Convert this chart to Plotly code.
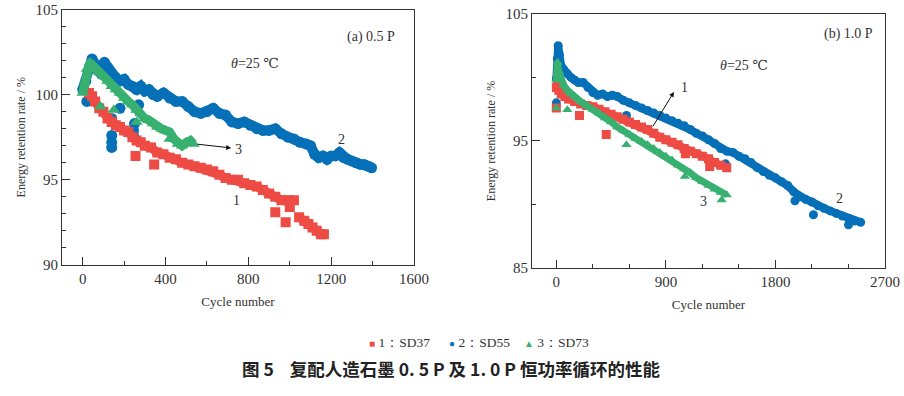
import plotly.graph_objects as go

# ---------------- data: (a) 0.5 P ----------------
a_sd37_cycle = [30, 45, 60, 80, 100, 120, 140, 160, 180, 200, 220, 240, 260, 280, 300, 330, 360, 390, 420,
                450, 480, 510, 540, 570, 600, 630, 660, 690, 720, 750, 780, 810, 840, 870, 900, 930, 960,
                990, 1020, None, 1045, 1070, 1090, 1110, 1130, 1150, 1165]
a_sd37_val = [100.1, 99.9, 99.6, 99.2, 99.0, 98.6, 98.4, 98.2, 98.1, 97.9, 97.8, 97.5, 97.3, 97.2, 97.0,
              96.9, 96.6, 96.5, 96.3, 96.2, 96.0, 95.9, 95.8, 95.7, 95.6, 95.5, 95.3, 95.1, 95.0, 95.0,
              94.8, 94.7, 94.6, 94.4, 94.2, 94.0, 93.8, 93.8, 93.8, None, 92.8, 92.6, 92.4, 92.2, 92.0, 91.8, 91.8]
a_sd37_out_cycle = [255, 345, 930, 980, 1000]
a_sd37_out_val = [96.4, 95.9, 93.1, 92.5, 93.4]

a_sd55_cycle = [0, 15, 30, 45, 60, 75, 90, 105, 120, 140, 160, 180, 200, 220, 240, 260, 280, 300, 320, 340,
                360, 390, 420, 450, 480, 510, 540, 570, 600, 630, 660, 690, 720, 750, 780, 810, 840, 870,
                900, 930, 960, 990, 1020, 1050, 1080, 1100, 1120, 1140, 1160, 1180, 1200, 1220, 1240, 1260,
                1280, 1300, 1320, 1340, 1360, 1380, 1395]
a_sd55_val = [100.3, 100.8, 101.5, 102.1, 101.8, 101.4, 101.2, 101.9, 101.6, 101.2, 101.0, 100.8, 100.9,
              100.6, 100.5, 100.3, 100.5, 100.2, 100.3, 100.0, 99.9, 100.1, 99.8, 99.6, 99.6, 99.3, 99.0,
              98.9, 99.0, 99.2, 98.9, 98.8, 98.4, 98.3, 98.4, 98.2, 98.0, 97.9, 97.9, 98.0, 97.7, 97.5,
              97.4, 97.2, 97.1, 97.0, 96.5, 96.3, 96.4, 96.2, 96.4, 96.4, 96.6, 96.3, 96.2, 96.1, 96.0,
              95.9, 95.9, 95.8, 95.7]
a_sd55_out_cycle = [20, 140, 140, 140, 140, 180, 245, 245, 270, 250]
a_sd55_out_val = [99.6, 98.6, 97.6, 97.2, 96.9, 99.2, 97.9, 97.6, 99.4, 98.3]

a_sd73_cycle = [0, 10, 20, 35, 50, 65, 80, 100, 120, 140, 160, 180, 200, 220, 240, 260, 280, 300, 320, 340,
                360, 380, 400, 420, 440, 460, 480, 500, 520, 535]
a_sd73_val = [100.1, 100.8, 101.5, 101.9, 101.7, 101.5, 101.3, 101.1, 100.8, 100.5, 100.3, 100.1, 99.8,
              99.6, 99.4, 99.1, 98.9, 98.6, 98.5, 98.3, 98.1, 98.0, 97.9, 97.8, 97.4, 97.1, 97.0, 97.2,
              97.3, 97.1]
a_sd73_out_cycle = [85, 150, 260, 420]
a_sd73_out_val = [99.3, 99.1, 98.4, 97.4]

# ---------------- data: (b) 1.0 P ----------------
b_sd37_cycle = [0, 10, 20, 40, 70, 100, 150, 200, 250, 300, 350, 400, 450, 500, 550, 600, 650, 700, 750,
                800, 850, 900, 950, 1000, 1050, 1100, 1150, 1200, 1250, 1300, 1350, 1400]
b_sd37_val = [99.2, 100.2, 99.0, 98.7, 98.5, 98.3, 98.1, 97.9, 97.8, 97.7, 97.5, 97.3, 97.1, 96.9, 96.7,
              96.5, 96.3, 96.1, 95.9, 95.6, 95.3, 95.1, 94.9, 94.7, 94.4, 94.2, 94.0, 93.8, 93.6, 93.3,
              93.1, 92.9]
b_sd37_out_cycle = [0, 190, 410, 1060, 1260]
b_sd37_out_val = [97.6, 97.0, 95.5, 94.0, 93.0]

b_sd55_cycle = [0, 8, 15, 25, 40, 60, 90, 120, 150, 180, 220, 260, 300, 340, 380, 420, 460, 500, 550, 600,
                650, 700, 750, 800, 850, 900, 950, 1000, 1050, 1100, 1150, 1200, 1250, 1300, 1350, 1400,
                1450, 1500, 1550, 1600, 1650, 1700, 1750, 1800, 1850, 1900, 1950, 2000, 2050, 2100, 2150,
                2200, 2250, 2300, 2350, 2400, 2450, 2500]
b_sd55_val = [99.9, 101.5, 102.5, 101.8, 100.9, 100.6, 100.3, 100.0, 99.8, 99.6, 99.6, 99.2, 98.8, 98.6,
              98.7, 98.5, 98.6, 98.5, 98.2, 98.0, 97.8, 97.6, 97.4, 97.2, 97.0, 96.8, 96.6, 96.4, 96.2,
              95.9, 95.6, 95.4, 95.1, 94.8, 94.4, 94.2, 94.1, 93.8, 93.6, 93.3, 92.9, 92.6, 92.3, 92.1,
              91.8, 91.5, 91.0, 90.6, 90.4, 90.2, 89.9, 89.7, 89.5, 89.3, 89.1, 88.9, 88.7, 88.6]
b_sd55_out_cycle = [0, 576, 1390, 2112, 2400, 1960]
b_sd55_out_val = [98.0, 97.0, 93.2, 89.2, 88.4, 90.3]

b_sd73_cycle = [0, 10, 20, 40, 60, 90, 120, 150, 200, 250, 300, 350, 400, 450, 500, 550, 600, 650, 700,
                750, 800, 850, 900, 950, 1000, 1050, 1100, 1150, 1200, 1250, 1300, 1350, 1400]
b_sd73_val = [99.8, 101.2, 100.5, 99.8, 99.4, 99.0, 98.7, 98.5, 98.1, 97.8, 97.5, 97.2, 96.8, 96.5, 96.1,
              95.8, 95.5, 95.2, 94.95, 94.7, 94.4, 94.1, 93.8, 93.5, 93.1, 92.8, 92.5, 92.1, 91.8, 91.5,
              91.2, 90.95, 90.75]
b_sd73_out_cycle = [0, 90, 576, 1056, 1358]
b_sd73_out_val = [97.6, 97.45, 94.7, 92.2, 90.35]

legend_names = ["1：SD37", "2：SD55", "3：SD73"]
colors = ["#EF4B45", "#0570B7", "#38B170"]
symbols = ["square", "circle", "triangle-up"]
legend_glyphs = ["■", "●", "▲"]

FONT = "Liberation Serif, Times New Roman, DejaVu Serif, serif"
fig = go.Figure()

def add_series(x, y, ox, oy, xa, ya, color, symbol, lw, ms):
    fig.add_trace(go.Scatter(x=x, y=y, xaxis=xa, yaxis=ya, mode="lines+markers",
                             line=dict(color=color, width=lw), marker=dict(color=color, symbol=symbol, size=ms),
                             showlegend=False, connectgaps=False, hoverinfo="skip"))
    fig.add_trace(go.Scatter(x=ox, y=oy, xaxis=xa, yaxis=ya, mode="markers",
                             marker=dict(color=color, symbol=symbol, size=ms),
                             showlegend=False, hoverinfo="skip"))

add_series(a_sd55_cycle, a_sd55_val, a_sd55_out_cycle, a_sd55_out_val, "x", "y", colors[1], symbols[1], 10, 11)
add_series(a_sd37_cycle, a_sd37_val, a_sd37_out_cycle, a_sd37_out_val, "x", "y", colors[0], symbols[0], 9, 10)
add_series(a_sd73_cycle, a_sd73_val, a_sd73_out_cycle, a_sd73_out_val, "x", "y", colors[2], symbols[2], 9, 11)

add_series(b_sd55_cycle, b_sd55_val, b_sd55_out_cycle, b_sd55_out_val, "x2", "y2", colors[1], symbols[1], 8, 9)
add_series(b_sd37_cycle, b_sd37_val, b_sd37_out_cycle, b_sd37_out_val, "x2", "y2", colors[0], symbols[0], 8, 9)
add_series(b_sd73_cycle, b_sd73_val, b_sd73_out_cycle, b_sd73_out_val, "x2", "y2", colors[2], symbols[2], 7, 9)

tickfont = dict(family=FONT, size=15, color="#333")
axis_common = dict(showline=True, mirror=True, linecolor="#333", linewidth=1, ticks="inside", ticklen=8,
                   tickcolor="#333", showgrid=False, zeroline=False, tickfont=tickfont, automargin=False)
title_font = dict(family=FONT, size=13, color="#333")

fig.update_layout(
    width=904, height=396, margin=dict(l=0, r=0, t=0, b=0, autoexpand=False),
    paper_bgcolor="white", plot_bgcolor="white", showlegend=False,
    xaxis=dict(domain=[0.0686, 0.458], range=[-100, 1600], dtick=400, tick0=0,
               minor=dict(ticks="inside", dtick=200, ticklen=4, tickcolor="#333"),
               title=dict(text="Cycle number", font=title_font, standoff=10),
               anchor="y", **axis_common),
    yaxis=dict(domain=[0.331, 0.976], range=[90, 105], dtick=5, tick0=90,
               minor=dict(ticks="inside", dtick=1, ticklen=4, tickcolor="#333"),
               title=dict(text="Energy retention rate / %", font=dict(family=FONT, size=12, color="#333"), standoff=7),
               anchor="x", **axis_common),
    xaxis2=dict(domain=[0.5885, 0.979], range=[-200, 2700], dtick=900, tick0=0,
                minor=dict(ticks="inside", dtick=300, ticklen=4, tickcolor="#333"),
                title=dict(text="Cycle number", font=title_font, standoff=10),
                anchor="y2", **axis_common),
    yaxis2=dict(domain=[0.323, 0.965], range=[85, 105], dtick=10, tick0=85,
                minor=dict(ticks="inside", dtick=5, ticklen=4, tickcolor="#333"),
                title=dict(text="Energy retention rate / %", font=dict(family=FONT, size=12, color="#333"), standoff=7),
                anchor="x2", **axis_common),
)

ann_font = dict(family=FONT, size=14, color="#333")
anns = [
    dict(x=1390, y=103.4, xref="x", yref="y", text="(a) 0.5 P", showarrow=False, font=ann_font),
    dict(x=830, y=101.8, xref="x", yref="y", text="<i>θ</i>=25 ℃", showarrow=False, font=ann_font),
    dict(x=1249, y=97.34, xref="x", yref="y", text="2", showarrow=False, font=ann_font),
    dict(x=741, y=93.76, xref="x", yref="y", text="1", showarrow=False, font=ann_font),
    dict(x=752, y=96.8, xref="x", yref="y", text="3", showarrow=False, font=ann_font),
    dict(x=717, y=96.87, ax=547, ay=97.1, xref="x", yref="y", axref="x", ayref="y", text="",
         showarrow=True, arrowhead=2, arrowsize=1, arrowwidth=1, arrowcolor="#111"),
    dict(x=2400, y=103.4, xref="x2", yref="y2", text="(b) 1.0 P", showarrow=False, font=ann_font),
    dict(x=1540, y=100.9, xref="x2", yref="y2", text="<i>θ</i>=25 ℃", showarrow=False, font=ann_font),
    dict(x=1050, y=99.17, xref="x2", yref="y2", text="1", showarrow=False, font=ann_font),
    dict(x=966, y=98.86, ax=785, ay=96.02, xref="x2", yref="y2", axref="x2", ayref="y2", text="",
         showarrow=True, arrowhead=2, arrowsize=1, arrowwidth=1, arrowcolor="#111"),
    dict(x=1205, y=90.2, xref="x2", yref="y2", text="3", showarrow=False, font=ann_font),
    dict(x=2325, y=90.5, xref="x2", yref="y2", text="2", showarrow=False, font=ann_font),
    dict(x=451 / 904, y=1 - 383 / 396, xref="paper", yref="paper", showarrow=False,
         text="<b>图 5    复配人造石墨 0. 5 P 及 1. 0 P 恒功率循环的性能</b>",
         font=dict(family="Noto Sans CJK SC", size=17.5, color="#222")),
]
# legend row (keys drawn as coloured glyphs next to the series names)
legend_x_px = [399, 479, 556]
for name, c, g, xp in zip(legend_names, colors, legend_glyphs, legend_x_px):
    anns.append(dict(x=xp / 904, y=1 - 352 / 396, xref="paper", yref="paper", showarrow=False,
                     text=f"<span style='color:{c};font-size:10px'>{g}</span> {name}",
                     font=dict(family=FONT, size=13.5, color="#333")))
fig.update_layout(annotations=anns)

fig.write_html("out.html", config={"displayModeBar": False},
               post_script="document.body.style.margin='0';")
